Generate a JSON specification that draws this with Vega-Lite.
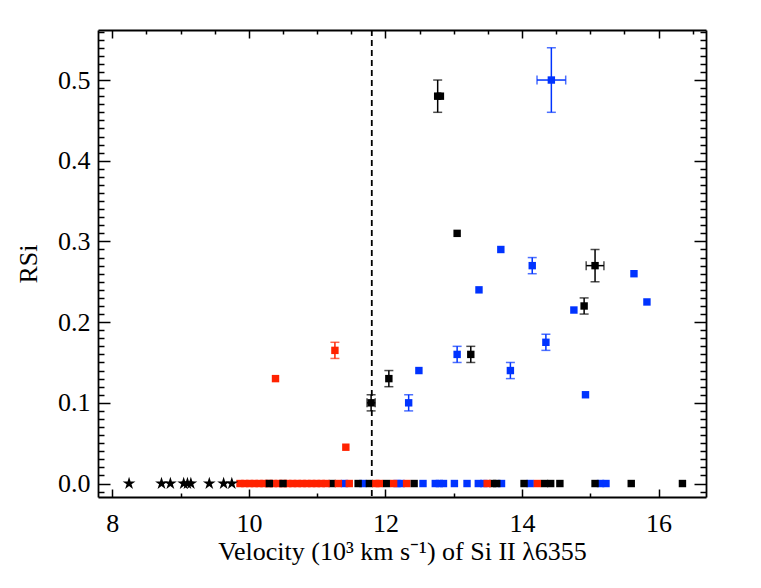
{
  "$schema": "https://vega.github.io/schema/vega-lite/v6.json",
  "width": 608,
  "height": 467,
  "autosize": "none",
  "padding": {"left": 98, "top": 30, "right": 55, "bottom": 91},
  "background": "white",
  "config": {
    "view": {"stroke": null},
    "axis": {
      "grid": false,
      "labelFont": "Liberation Serif",
      "labelFontSize": 26,
      "titleFont": "Liberation Serif",
      "titleFontSize": 26,
      "titleFontWeight": "normal",
      "labelColor": "#000",
      "titleColor": "#000",
      "tickColor": "#000",
      "domainColor": "#000",
      "domainWidth": 1.8,
      "tickWidth": 1.5,
      "labelOverlap": false,
      "labelFlush": false
    }
  },
  "datasets": {
    "pts": [
      {"x": 11.40, "y": 0, "c": "b"},
      {"x": 11.67, "y": 0, "c": "b"},
      {"x": 12.17, "y": 0, "c": "b"},
      {"x": 12.23, "y": 0, "c": "b"},
      {"x": 12.55, "y": 0, "c": "b"},
      {"x": 12.73, "y": 0, "c": "b"},
      {"x": 12.79, "y": 0, "c": "b"},
      {"x": 12.85, "y": 0, "c": "b"},
      {"x": 13.01, "y": 0, "c": "b"},
      {"x": 13.195, "y": 0, "c": "b"},
      {"x": 13.36, "y": 0, "c": "b"},
      {"x": 13.44, "y": 0, "c": "b"},
      {"x": 13.70, "y": 0, "c": "b"},
      {"x": 14.12, "y": 0, "c": "b"},
      {"x": 15.15, "y": 0, "c": "b"},
      {"x": 15.23, "y": 0, "c": "b"},
      {"x": 11.22, "y": 0, "c": "k"},
      {"x": 11.60, "y": 0, "c": "k"},
      {"x": 11.765, "y": 0, "c": "k"},
      {"x": 12.015, "y": 0, "c": "k"},
      {"x": 12.42, "y": 0, "c": "k"},
      {"x": 13.57, "y": 0, "c": "k"},
      {"x": 13.63, "y": 0, "c": "k"},
      {"x": 14.03, "y": 0, "c": "k"},
      {"x": 14.33, "y": 0, "c": "k"},
      {"x": 14.42, "y": 0, "c": "k"},
      {"x": 14.555, "y": 0, "c": "k"},
      {"x": 15.07, "y": 0, "c": "k"},
      {"x": 15.60, "y": 0, "c": "k"},
      {"x": 16.35, "y": 0, "c": "k"},
      {"x": 9.87, "y": 0, "c": "r"},
      {"x": 9.94, "y": 0, "c": "r"},
      {"x": 10.01, "y": 0, "c": "r"},
      {"x": 10.08, "y": 0, "c": "r"},
      {"x": 10.15, "y": 0, "c": "r"},
      {"x": 10.22, "y": 0, "c": "r"},
      {"x": 10.29, "y": 0, "c": "r"},
      {"x": 10.36, "y": 0, "c": "r"},
      {"x": 10.43, "y": 0, "c": "r"},
      {"x": 10.50, "y": 0, "c": "r"},
      {"x": 10.57, "y": 0, "c": "r"},
      {"x": 10.64, "y": 0, "c": "r"},
      {"x": 10.71, "y": 0, "c": "r"},
      {"x": 10.78, "y": 0, "c": "r"},
      {"x": 10.85, "y": 0, "c": "r"},
      {"x": 10.92, "y": 0, "c": "r"},
      {"x": 10.99, "y": 0, "c": "r"},
      {"x": 11.06, "y": 0, "c": "r"},
      {"x": 11.13, "y": 0, "c": "r"},
      {"x": 11.31, "y": 0, "c": "r"},
      {"x": 11.47, "y": 0, "c": "r"},
      {"x": 11.86, "y": 0, "c": "r"},
      {"x": 11.91, "y": 0, "c": "r"},
      {"x": 12.12, "y": 0, "c": "r"},
      {"x": 12.31, "y": 0, "c": "r"},
      {"x": 13.49, "y": 0, "c": "r"},
      {"x": 14.225, "y": 0, "c": "r"},
      {"x": 10.30, "y": 0, "c": "k"},
      {"x": 10.50, "y": 0, "c": "k"},
      {"x": 12.765, "y": 0.48, "c": "k", "ylo": 0.46, "yhi": 0.50},
      {"x": 12.805, "y": 0.48, "c": "k"},
      {"x": 14.43, "y": 0.50, "c": "b", "ylo": 0.46, "yhi": 0.54, "xlo": 14.22, "xhi": 14.64},
      {"x": 13.05, "y": 0.31, "c": "k"},
      {"x": 13.69, "y": 0.29, "c": "b"},
      {"x": 14.15, "y": 0.27, "c": "b", "ylo": 0.26, "yhi": 0.28},
      {"x": 13.37, "y": 0.24, "c": "b"},
      {"x": 15.07, "y": 0.27, "c": "k", "ylo": 0.25, "yhi": 0.29, "xlo": 14.94, "xhi": 15.20},
      {"x": 14.91, "y": 0.22, "c": "k", "ylo": 0.21, "yhi": 0.23},
      {"x": 15.64, "y": 0.26, "c": "b"},
      {"x": 15.83, "y": 0.225, "c": "b"},
      {"x": 14.76, "y": 0.215, "c": "b"},
      {"x": 14.35, "y": 0.175, "c": "b", "ylo": 0.165, "yhi": 0.185},
      {"x": 13.83, "y": 0.14, "c": "b", "ylo": 0.13, "yhi": 0.15},
      {"x": 14.93, "y": 0.11, "c": "b"},
      {"x": 11.26, "y": 0.165, "c": "r", "ylo": 0.155, "yhi": 0.175},
      {"x": 10.39, "y": 0.13, "c": "r"},
      {"x": 11.42, "y": 0.045, "c": "r"},
      {"x": 11.79, "y": 0.10, "c": "k", "ylo": 0.09, "yhi": 0.11, "xlo": 11.73, "xhi": 11.85},
      {"x": 12.05, "y": 0.13, "c": "k", "ylo": 0.12, "yhi": 0.14},
      {"x": 12.49, "y": 0.14, "c": "b"},
      {"x": 12.34, "y": 0.10, "c": "b", "ylo": 0.09, "yhi": 0.11},
      {"x": 13.05, "y": 0.16, "c": "b", "ylo": 0.15, "yhi": 0.17},
      {"x": 13.25, "y": 0.16, "c": "k", "ylo": 0.15, "yhi": 0.17}
    ],
    "stars": [
      {"x": 8.245, "y": 0},
      {"x": 8.72, "y": 0},
      {"x": 8.85, "y": 0},
      {"x": 9.045, "y": 0},
      {"x": 9.10, "y": 0},
      {"x": 9.15, "y": 0},
      {"x": 9.42, "y": 0},
      {"x": 9.63, "y": 0},
      {"x": 9.75, "y": 0}
    ],
    "vline": [{"v": 11.8}]
  },
  "layer": [
    {
      "data": {"name": "vline"},
      "mark": {"type": "rule", "strokeDash": [6, 4], "strokeWidth": 1.8, "color": "#000"},
      "encoding": {
        "x": {"field": "v", "type": "quantitative", "scale": {"domain": [7.79, 16.695], "nice": false, "zero": false}, "axis": null}
      }
    },
    {
      "data": {"name": "pts"},
      "transform": [{"filter": "isValid(datum.ylo)"}],
      "mark": {"type": "errorbar", "ticks": {"size": 9, "thickness": 1.5}, "thickness": 1.5},
      "encoding": {
        "x": {"field": "x", "type": "quantitative", "scale": {"domain": [7.79, 16.695], "nice": false, "zero": false}, "axis": null},
        "y": {"field": "ylo", "type": "quantitative", "scale": {"domain": [-0.0167, 0.562], "nice": false, "zero": false}, "axis": null},
        "y2": {"field": "yhi"},
        "color": {"field": "c", "type": "nominal", "scale": {"domain": ["k", "b", "r"], "range": ["#000000", "#0033ff", "#ff2200"]}, "legend": null}
      }
    },
    {
      "data": {"name": "pts"},
      "transform": [{"filter": "isValid(datum.xlo)"}],
      "mark": {"type": "errorbar", "ticks": {"size": 9, "thickness": 1.5}, "thickness": 1.5},
      "encoding": {
        "y": {"field": "y", "type": "quantitative", "scale": {"domain": [-0.0167, 0.562], "nice": false, "zero": false}, "axis": null},
        "x": {"field": "xlo", "type": "quantitative", "scale": {"domain": [7.79, 16.695], "nice": false, "zero": false}, "axis": null},
        "x2": {"field": "xhi"},
        "color": {"field": "c", "type": "nominal", "scale": {"domain": ["k", "b", "r"], "range": ["#000000", "#0033ff", "#ff2200"]}, "legend": null}
      }
    },
    {
      "data": {"name": "pts"},
      "mark": {"type": "square", "size": 55, "opacity": 1, "filled": true},
      "encoding": {
        "x": {
          "field": "x", "type": "quantitative",
          "scale": {"domain": [7.79, 16.695], "nice": false, "zero": false},
          "axis": {
            "orient": "bottom",
            "values": [8, 8.5, 9, 9.5, 10, 10.5, 11, 11.5, 12, 12.5, 13, 13.5, 14, 14.5, 15, 15.5, 16, 16.5],
            "format": "d",
            "labelExpr": "datum.value % 2 === 0 ? datum.label : ''",
            "tickSize": {"condition": {"test": "datum.value % 2 === 0", "value": -8}, "value": -4},
            "labelPadding": 21,
            "title": "Velocity (10³ km s⁻¹) of Si II λ6355",
            "titlePadding": -2
          }
        },
        "y": {
          "field": "y", "type": "quantitative",
          "scale": {"domain": [-0.0167, 0.562], "nice": false, "zero": false},
          "axis": {
            "orient": "left",
            "values": [-0.01, 0, 0.01, 0.02, 0.03, 0.04, 0.05, 0.06, 0.07, 0.08, 0.09, 0.1, 0.11, 0.12, 0.13, 0.14, 0.15, 0.16, 0.17, 0.18, 0.19, 0.2, 0.21, 0.22, 0.23, 0.24, 0.25, 0.26, 0.27, 0.28, 0.29, 0.3, 0.31, 0.32, 0.33, 0.34, 0.35, 0.36, 0.37, 0.38, 0.39, 0.4, 0.41, 0.42, 0.43, 0.44, 0.45, 0.46, 0.47, 0.48, 0.49, 0.5, 0.51, 0.52, 0.53, 0.54, 0.55, 0.56],
            "format": ".1f",
            "labelExpr": "abs(datum.value * 10 - round(datum.value * 10)) < 0.001 ? datum.label : ''",
            "tickSize": {"condition": {"test": "abs(datum.value * 10 - round(datum.value * 10)) < 0.001", "value": -12}, "value": -6},
            "labelPadding": 20,
            "title": "RSi",
            "titlePadding": 16
          }
        },
        "color": {"field": "c", "type": "nominal", "scale": {"domain": ["k", "b", "r"], "range": ["#000000", "#0033ff", "#ff2200"]}, "legend": null}
      }
    },
    {
      "data": {"name": "stars"},
      "mark": {"type": "point", "shape": "M0,-1L0.2245,-0.309L0.951,-0.309L0.363,0.118L0.588,0.809L0,0.382L-0.588,0.809L-0.363,0.118L-0.951,-0.309L-0.2245,-0.309Z", "filled": true, "color": "#000", "size": 180, "opacity": 1},
      "encoding": {
        "x": {
          "field": "x", "type": "quantitative",
          "scale": {"domain": [7.79, 16.695], "nice": false, "zero": false},
          "axis": {
            "orient": "top",
            "values": [8, 8.5, 9, 9.5, 10, 10.5, 11, 11.5, 12, 12.5, 13, 13.5, 14, 14.5, 15, 15.5, 16, 16.5],
            "labels": false,
            "title": null,
            "tickSize": {"condition": {"test": "datum.value % 2 === 0", "value": -8}, "value": -4}
          }
        },
        "y": {
          "field": "y", "type": "quantitative",
          "scale": {"domain": [-0.0167, 0.562], "nice": false, "zero": false},
          "axis": {
            "orient": "right",
            "values": [-0.01, 0, 0.01, 0.02, 0.03, 0.04, 0.05, 0.06, 0.07, 0.08, 0.09, 0.1, 0.11, 0.12, 0.13, 0.14, 0.15, 0.16, 0.17, 0.18, 0.19, 0.2, 0.21, 0.22, 0.23, 0.24, 0.25, 0.26, 0.27, 0.28, 0.29, 0.3, 0.31, 0.32, 0.33, 0.34, 0.35, 0.36, 0.37, 0.38, 0.39, 0.4, 0.41, 0.42, 0.43, 0.44, 0.45, 0.46, 0.47, 0.48, 0.49, 0.5, 0.51, 0.52, 0.53, 0.54, 0.55, 0.56],
            "labels": false,
            "title": null,
            "tickSize": {"condition": {"test": "abs(datum.value * 10 - round(datum.value * 10)) < 0.001", "value": -12}, "value": -6}
          }
        }
      }
    }
  ],
  "resolve": {"axis": {"x": "independent", "y": "independent"}}
}
